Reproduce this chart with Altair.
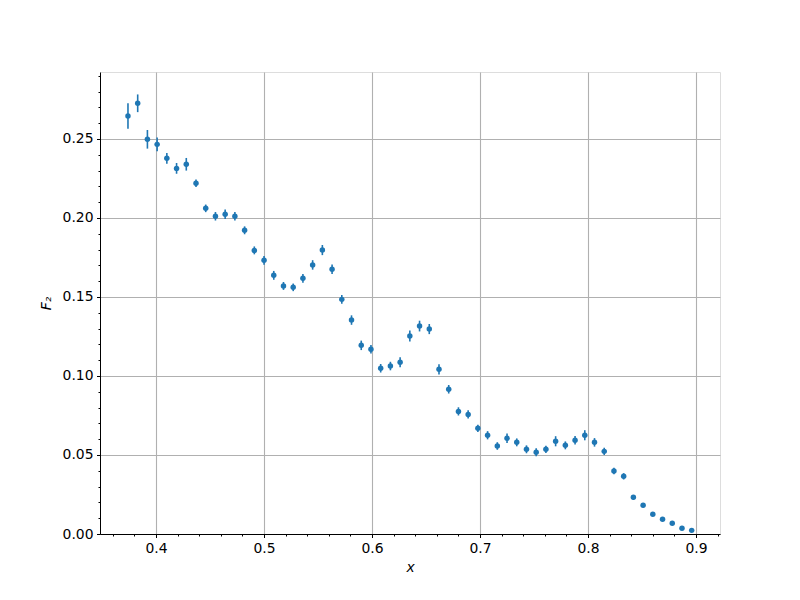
import altair as alt
import pandas as pd

x_vals = [0.374, 0.383, 0.392, 0.401, 0.410, 0.419, 0.428, 0.437, 0.446, 0.455,
          0.464, 0.473, 0.482, 0.491, 0.500, 0.509, 0.518, 0.527, 0.536, 0.545,
          0.554, 0.563, 0.572, 0.581, 0.590, 0.599, 0.608, 0.617, 0.626, 0.635,
          0.644, 0.653, 0.662, 0.671, 0.680, 0.689, 0.698, 0.707, 0.716, 0.725,
          0.734, 0.743, 0.752, 0.761, 0.770, 0.779, 0.788, 0.797, 0.806, 0.815,
          0.824, 0.833, 0.842, 0.851, 0.860, 0.869, 0.878, 0.887, 0.896]
f2_vals = [0.2646, 0.2726, 0.2498, 0.2466, 0.2378, 0.2314, 0.2340, 0.2220, 0.2061, 0.2011,
           0.2023, 0.2011, 0.1922, 0.1795, 0.1732, 0.1637, 0.1570, 0.1561, 0.1618, 0.1703,
           0.1797, 0.1675, 0.1485, 0.1354, 0.1194, 0.1169, 0.1049, 0.1063, 0.1087, 0.1253,
           0.1316, 0.1297, 0.1042, 0.0916, 0.0776, 0.0757, 0.0669, 0.0625, 0.0557, 0.0606,
           0.0580, 0.0536, 0.0517, 0.0536, 0.0587, 0.0561, 0.0593, 0.0625, 0.0580, 0.0523,
           0.0399, 0.0365, 0.0232, 0.0182, 0.0125, 0.0093, 0.0068, 0.0036, 0.0023]
f2_err = [0.0081, 0.0056, 0.0059, 0.0043, 0.0034, 0.0034, 0.0040, 0.0024, 0.0024, 0.0027,
          0.0030, 0.0027, 0.0025, 0.0025, 0.0028, 0.0028, 0.0025, 0.0024, 0.0028, 0.0030,
          0.0032, 0.0030, 0.0027, 0.0030, 0.0030, 0.0027, 0.0027, 0.0027, 0.0032, 0.0035,
          0.0034, 0.0032, 0.0032, 0.0027, 0.0026, 0.0026, 0.0023, 0.0026, 0.0024, 0.0030,
          0.0025, 0.0025, 0.0025, 0.0023, 0.0032, 0.0025, 0.0027, 0.0032, 0.0027, 0.0023,
          0.0021, 0.0020, 0.0015, 0.0013, 0.0010, 0.0009, 0.0008, 0.0007, 0.0006]

x_ticks = [0.36, 0.38, 0.40, 0.42, 0.44, 0.46, 0.48, 0.50, 0.52, 0.54, 0.56, 0.58,
           0.60, 0.62, 0.64, 0.66, 0.68, 0.70, 0.72, 0.74, 0.76, 0.78, 0.80, 0.82,
           0.84, 0.86, 0.88, 0.90, 0.92]
y_ticks = [0.00, 0.01, 0.02, 0.03, 0.04, 0.05, 0.06, 0.07, 0.08, 0.09, 0.10, 0.11,
           0.12, 0.13, 0.14, 0.15, 0.16, 0.17, 0.18, 0.19, 0.20, 0.21, 0.22, 0.23,
           0.24, 0.25, 0.26, 0.27, 0.28, 0.29]

df = pd.DataFrame({"x": x_vals, "F2": f2_vals, "err": f2_err})
df["lo"] = df["F2"] - df["err"]
df["hi"] = df["F2"] + df["err"]

BLUE = "#1f77b4"
MX = "abs(datum.value*10 - round(datum.value*10)) < 1e-6"
MY = "abs(datum.value*20 - round(datum.value*20)) < 1e-6"

common_axis = dict(
    labelFont="DejaVu Sans", labelFontSize=13.9, labelColor="black",
    titleFont="DejaVu Sans", titleFontSize=13.9, titleColor="black",
    titleFontWeight="normal", titleFontStyle="italic",
    tickColor="black", tickWidth=1, domainColor="black", domainWidth=1,
    gridColor="#b0b0b0", gridWidth=1.1, labelOverlap=False, labelFlush=False,
    labelPadding=3.5,
)

xaxis = alt.Axis(
    values=x_ticks, title="x",
    labelExpr=f"({MX}) ? format(datum.value, '.1f') : ''",
    tickSize={"condition": {"test": MX, "value": 3.5}, "value": 2},
    gridOpacity={"condition": {"test": MX, "value": 1}, "value": 0},
    titlePadding=6,
    **common_axis,
)
yaxis = alt.Axis(
    values=y_ticks, title="F₂",
    labelExpr=f"({MY}) ? format(datum.value, '.2f') : ''",
    tickSize={"condition": {"test": MY, "value": 3.5}, "value": 2},
    gridOpacity={"condition": {"test": MY, "value": 1}, "value": 0},
    titlePadding=9,
    **common_axis,
)

xscale = alt.Scale(domain=[0.3481, 0.9222], nice=False, zero=False)
yscale = alt.Scale(domain=[0, 0.2924], nice=False, zero=False)

base = alt.Chart(df)
bars = base.mark_rule(color=BLUE, strokeWidth=1.6).encode(
    x=alt.X("x:Q", scale=xscale, axis=xaxis),
    y=alt.Y("lo:Q", scale=yscale, axis=yaxis),
    y2="hi:Q",
)
pts = base.mark_point(filled=True, color=BLUE, opacity=1, size=30).encode(
    x=alt.X("x:Q", scale=xscale, axis=xaxis),
    y=alt.Y("F2:Q", scale=yscale, axis=yaxis),
)

chart = alt.layer(bars, pts).properties(
    width=620, height=462, autosize="none",
    padding={"left": 92, "top": 64, "right": 72, "bottom": 58},
).configure_view(stroke="black", strokeWidth=1).configure(background="white")

chart.save("out.html", embed_options={"renderer": "svg", "actions": False})
